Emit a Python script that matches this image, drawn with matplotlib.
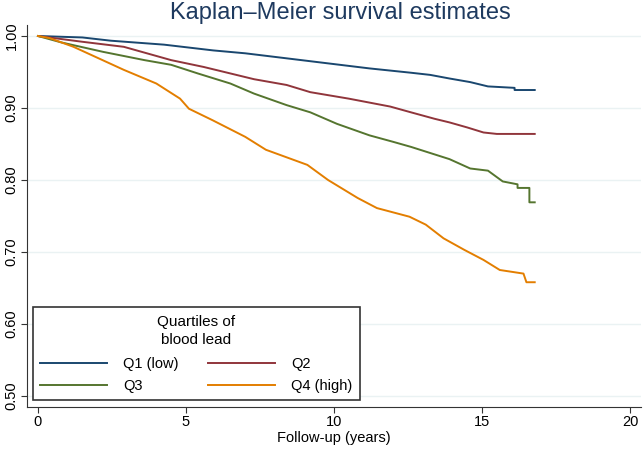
import numpy as np
import matplotlib.pyplot as plt

plt.rcParams['font.family'] = ['Liberation Sans', 'DejaVu Sans']

# values (years, survival probability)
t_q1 = [0, 1.5, 2.46, 4.26, 5.92, 7.0, 8.4, 9.8, 11.2, 12.6, 13.25, 13.9, 14.6, 15.2, 16.1, 16.1, 16.78]
s_q1 = [1.0, 0.998, 0.9935, 0.988, 0.980, 0.976, 0.969, 0.962, 0.955, 0.949, 0.946, 0.941, 0.936, 0.930, 0.928, 0.925, 0.925]

t_q2 = [0, 1.5, 2.9, 4.5, 5.6, 7.3, 8.4, 9.2, 10.5, 11.9, 12.6, 13.4, 13.9, 14.5, 15.05, 15.5, 16.78]
s_q2 = [1.0, 0.992, 0.985, 0.9665, 0.957, 0.940, 0.932, 0.922, 0.913, 0.902, 0.894, 0.885, 0.880, 0.873, 0.866, 0.864, 0.864]

t_q3 = [0, 0.8, 2.2, 3.6, 4.5, 5.4, 6.5, 7.3, 8.4, 9.2, 10.1, 11.2, 12.0, 12.6, 13.9, 14.6, 15.2, 15.7, 16.2, 16.2, 16.6, 16.6, 16.78]
s_q3 = [1.0, 0.991, 0.978, 0.9665, 0.960, 0.948, 0.934, 0.920, 0.904, 0.894, 0.878, 0.862, 0.853, 0.846, 0.829, 0.816, 0.813, 0.798, 0.794, 0.789, 0.789, 0.769, 0.769]

t_q4 = [0, 0.4, 1.2, 2.05, 2.9, 4.0, 4.8, 5.1, 5.9, 7.0, 7.7, 9.1, 9.8, 10.8, 11.45, 12.55, 13.1, 13.7, 14.4, 15.05, 15.6, 16.4, 16.5, 16.78]
s_q4 = [1.0, 0.997, 0.985, 0.969, 0.953, 0.934, 0.913, 0.899, 0.883, 0.860, 0.842, 0.821, 0.800, 0.775, 0.761, 0.749, 0.738, 0.719, 0.703, 0.689, 0.675, 0.670, 0.658, 0.658]

labels = ['Q1 (low)', 'Q2', 'Q3', 'Q4 (high)']
colors = ['#1a476f', '#90353b', '#55752f', '#e37e00']
x_ticks = [0, 5, 10, 15, 20]
y_ticks = [0.5, 0.6, 0.7, 0.8, 0.9, 1.0]

fig = plt.figure(figsize=(6.43, 4.54), dpi=100)
ax = fig.add_axes([27 / 643, 47 / 454, 614 / 643, 382 / 454])

series = [(t_q1, s_q1), (t_q2, s_q2), (t_q3, s_q3), (t_q4, s_q4)]
lines = []
for (t, s), lab, c in zip(series, labels, colors):
    ln, = ax.plot(t, s, color=c, lw=1.4, label=lab)
    lines.append(ln)

ax.set_xlim(-0.37, 20.37)
ax.set_ylim(0.4847, 1.0153)
ax.set_xticks(x_ticks)
ax.set_yticks(y_ticks)
ax.set_yticklabels([f'{v:.2f}' for v in y_ticks], rotation=90, va='center')
ax.yaxis.grid(True, color='#eaf2f3', lw=1)
ax.set_axisbelow(True)
for side in ['top', 'right']:
    ax.spines[side].set_visible(False)
for side in ['left', 'bottom']:
    ax.spines[side].set_color('#333333')
ax.tick_params(labelsize=10.5, length=4, color='#333333', pad=2)
ax.set_xlabel('Follow-up (years)', fontsize=10.5, labelpad=1)

fig.text(0.53, 0.972, 'Kaplan\u2013Meier survival estimates', ha='center', va='center',
         fontsize=17, color='#1e3a5f')

# matplotlib fills columns first, so reorder to get rows Q1/Q2 and Q3/Q4
order = [0, 2, 1, 3]
leg = fig.legend(handles=[lines[i] for i in order], loc='lower left',
                 bbox_to_anchor=(33 / 643, 54 / 454), borderaxespad=0,
                 ncol=2, title='Quartiles of\nblood lead', fontsize=10.5, title_fontsize=11,
                 fancybox=False, edgecolor='#333333', framealpha=1, handlelength=4.6,
                 columnspacing=2.0, borderpad=0.5, labelspacing=0.55, handletextpad=1.1)
leg.get_frame().set_linewidth(1.2)
leg.get_title().set_multialignment('center')
leg.get_title().set_linespacing(1.4)
leg._legend_box.sep = 7  # gap between legend title and entries

fig.savefig('out.png', dpi=100)
